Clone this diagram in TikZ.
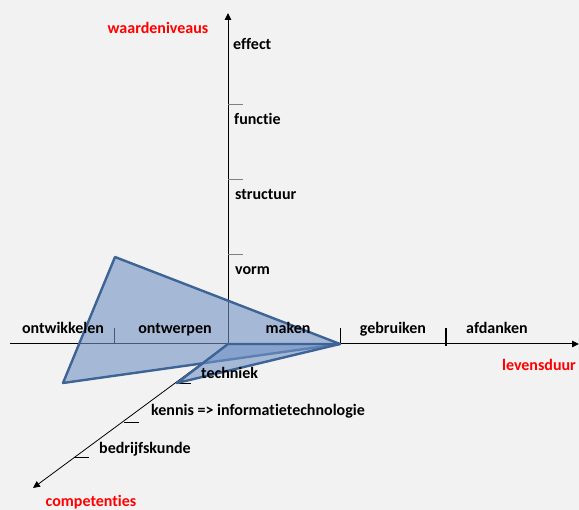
\documentclass[tikz,border=0pt]{standalone}
\usepackage{fontspec}
\setmainfont{Carlito}[Ligatures=NoCommon]
\usetikzlibrary{arrows.meta}
\definecolor{bg}{RGB}{242,242,242}
\definecolor{triedge}{RGB}{62,100,150}
\definecolor{trifill}{RGB}{115,148,198}
\definecolor{axred}{RGB}{255,0,0}
\tikzset{
  lbl/.style={font=\fontsize{16}{19}\selectfont\bfseries, inner sep=0pt, anchor=mid west},
  redlbl/.style={lbl, text=axred},
  axis/.style={line width=1pt, -{Triangle[length=7pt,width=6.5pt]}},
  tickv/.style={line width=1pt, draw=gray},
  tickh/.style={line width=0.9pt},
  tri/.style={draw=triedge, line width=2.4pt, line join=round, fill=trifill, fill opacity=0.6}
}
\begin{document}
\begin{tikzpicture}[x=1pt,y=-1pt]
\useasboundingbox[fill=bg] (0,0) rectangle (579,510);
% axes points
\coordinate (O) at (228,344);
\coordinate (Vtop) at (228,13);
\coordinate (Hleft) at (10,344);
\coordinate (Hright) at (579,344);
\coordinate (Dend) at (33,488);
% axes
\draw[axis] (O) -- (Vtop);
\draw[axis] (Hleft) -- (Hright);
\draw[axis, line width=0.8pt] (O) -- (Dend);
% vertical ticks
\coordinate (v1a) at (228,105); \coordinate (v1b) at (243,105);
\coordinate (v2a) at (228,180); \coordinate (v2b) at (243,180);
\coordinate (v3a) at (228,255); \coordinate (v3b) at (243,255);
\draw[tickv] (v1a) -- (v1b);
\draw[tickv] (v2a) -- (v2b);
\draw[tickv] (v3a) -- (v3b);
% horizontal ticks
\coordinate (h1a) at (114,328); \coordinate (h1b) at (114,344);
\coordinate (h2a) at (340,328); \coordinate (h2b) at (340,344);
\coordinate (h3a) at (446,328); \coordinate (h3b) at (446,346);
\draw[tickh] (h1a) -- (h1b);
\draw[tickh] (h2a) -- (h2b);
\draw[tickh, line width=1.6pt] (h3a) -- (h3b);
% diagonal ticks
\coordinate (d1a) at (176,383); \coordinate (d1b) at (191,383);
\coordinate (d2a) at (124,422); \coordinate (d2b) at (139,422);
\coordinate (d3a) at (74,457); \coordinate (d3b) at (89,457);
\draw[line width=0.8pt] (d1a) -- (d1b);
\draw[line width=0.8pt] (d2a) -- (d2b);
\draw[line width=0.8pt] (d3a) -- (d3b);
% triangles
\coordinate (T1) at (115,257);
\coordinate (T2) at (340,344);
\coordinate (T3) at (63,383);
\coordinate (S3) at (177,383);
\draw[tri] (T1) -- (T2) -- (T3) -- cycle;
\draw[tri] (O) -- (T2) -- (S3) -- cycle;
% labels
\node[redlbl, anchor=mid] (wn) at (158,31) {waardeniveaus};
\node[lbl] (eff) at (233,47) {effect};
\node[lbl] (fun) at (234,122) {functie};
\node[lbl] (str) at (235,197) {structuur};
\node[lbl] (vorm) at (235,272) {vorm};
\node[lbl, anchor=mid] (ontw) at (63,331) {ontwikkelen};
\node[lbl, anchor=mid] (ontp) at (175,331) {ontwerpen};
\node[lbl, anchor=mid] (mak) at (288,331) {maken};
\node[lbl, anchor=mid] (geb) at (393,331) {gebruiken};
\node[lbl, anchor=mid] (afd) at (497,331) {afdanken};
\node[redlbl, anchor=mid] (lev) at (539,368) {levensduur};
\node[lbl] (tech) at (201,376) {techniek};
\node[lbl] (ken) at (151,413) {kennis => informatietechnologie};
\node[lbl] (bed) at (99,451) {bedrijfskunde};
\node[redlbl, anchor=mid] (comp) at (91,504) {competenties};
\end{tikzpicture}
\end{document}
